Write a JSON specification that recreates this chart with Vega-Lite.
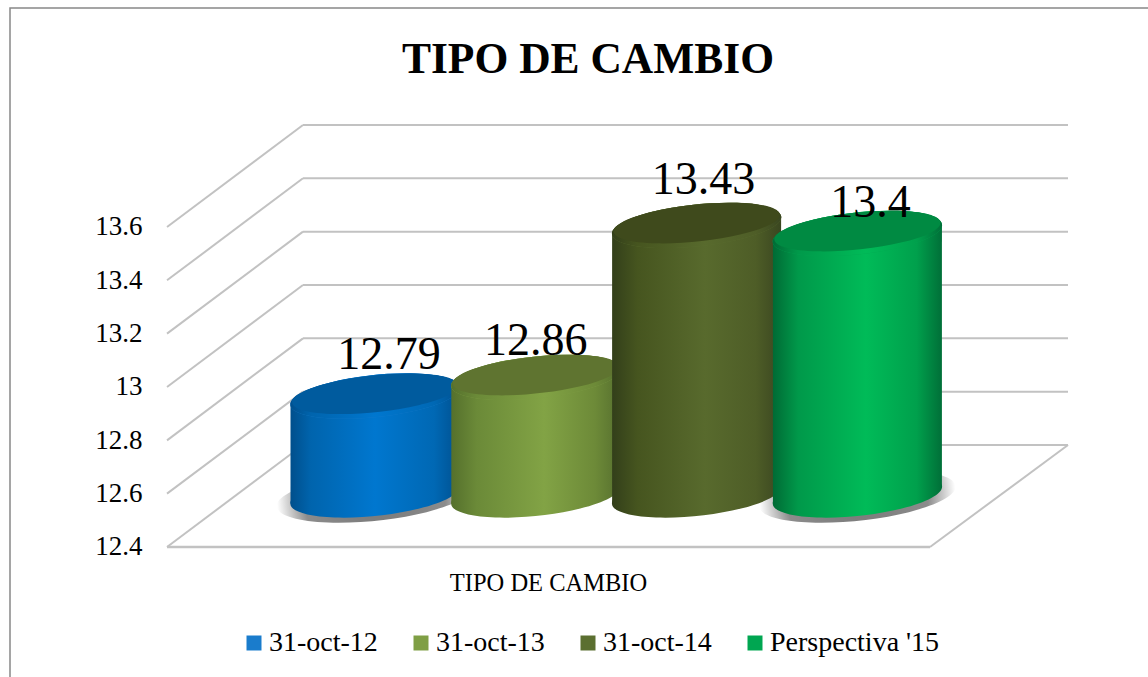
{
"$schema":"https://vega.github.io/schema/vega-lite/v6.json",
"width":1140,"height":671,"autosize":"none",
"padding":{"left":10,"top":8,"right":0,"bottom":0},
"background":"white",
"config":{"view":{"stroke":"#888888","strokeWidth":1.5},"font":"Liberation Serif"},
"title":{"text":"TIPO DE CAMBIO","font":"Liberation Serif","fontSize":43.5,"fontWeight":"bold","color":"#000000","anchor":"middle","dx":8,"offset":-74},
"datasets":{
"barras":[
{"serie":"31-oct-12","orden":0,"valor":12.79},
{"serie":"31-oct-13","orden":1,"valor":12.86},
{"serie":"31-oct-14","orden":2,"valor":13.43},
{"serie":"Perspectiva '15","orden":3,"valor":13.4}],
"ticks":[{"tick":12.4},{"tick":12.6},{"tick":12.8},{"tick":13.0},{"tick":13.2},{"tick":13.4},{"tick":13.6}]
},
"layer":[
{"data":{"name":"ticks"},
 "transform":[{"calculate":"[0,1]","as":"s"},{"flatten":["s"]},{"calculate":"-1.2935+datum.s*0.8457","as":"xp"},{"calculate":"datum.tick+datum.s*0.3825","as":"yp"}],
 "mark":{"type":"line","color":"#c2c2c2","strokeWidth":2},
 "encoding":{
  "x":{"field":"xp","type":"quantitative","scale":{"domain":[-2.27,4.8196],"nice":false,"zero":false},
   "axis":{"title":"TIPO DE CAMBIO","titleFont":"Liberation Serif","titleFontSize":24.5,"titleFontWeight":"normal","titleColor":"#000000","titleX":538,"titleY":-108,"labels":false,"ticks":false,"domain":false,"grid":false}},
  "y":{"field":"yp","type":"quantitative","scale":{"domain":[11.905,14.4212],"nice":false,"zero":false},
   "axis":{"title":null,"values":[12.4,12.6,12.8,13,13.2,13.4,13.6],"format":"~g","offset":-147,"labelPadding":15,"ticks":false,"domain":false,"grid":false,"labelFont":"Liberation Serif","labelFontSize":27,"labelColor":"#000000"}},
  "detail":{"field":"tick"}}},
{"data":{"name":"ticks"},
 "transform":[{"calculate":"datum.tick+0.3825","as":"yb"}],
 "mark":{"type":"rule","color":"#c2c2c2","strokeWidth":2},
 "encoding":{"x":{"datum":-0.4478,"type":"quantitative"},"x2":{"datum":4.3097},"y":{"field":"yb","type":"quantitative"}}},
{"data":{"name":"ticks"},
 "transform":[{"filter":"datum.tick==12.4"}],
 "mark":{"type":"rule","color":"#c2c2c2","strokeWidth":2.5},
 "encoding":{"x":{"datum":-1.2935,"type":"quantitative"},"x2":{"datum":3.4515},"y":{"field":"tick","type":"quantitative"}}},
{"data":{"name":"ticks"},
 "transform":[{"filter":"datum.tick==12.4"},{"calculate":"[0,1]","as":"s"},{"flatten":["s"]},{"calculate":"3.4515+datum.s*0.8582","as":"xp"},{"calculate":"datum.tick+datum.s*0.3825","as":"yp"}],
 "mark":{"type":"line","color":"#c2c2c2","strokeWidth":2},
 "encoding":{"x":{"field":"xp","type":"quantitative"},"y":{"field":"yp","type":"quantitative"}}},
{"data":{"name":"barras"},
 "transform":[{"filter":"datum.orden==0||datum.orden==3"},{"calculate":"12.59","as":"base"}],
 "mark":{"type":"point","filled":true,"opacity":1,"strokeWidth":0,"size":39000,"shape":"M -0.9945 0.1045 A 1 0.245 -6 1 1 0.9945 -0.1045 A 1 0.245 -6 1 1 -0.9945 0.1045 Z",
  "fill":{"gradient":"radial","x1":0.5,"y1":0.5,"r1":0,"x2":0.5,"y2":0.5,"r2":0.5,"stops":[{"offset":0,"color":"#777777"},{"offset":0.72,"color":"#8c8c8c"},{"offset":1,"color":"#ffffff"}]}},
 "encoding":{"x":{"field":"orden","type":"quantitative"},"y":{"field":"base","type":"quantitative"}}},

{"data":{"name":"barras"},"transform":[{"filter":"datum.orden==0"},{"calculate":"12.595","as":"base"}],
 "mark":{"type":"point","filled":true,"opacity":1,"strokeWidth":0,"size":28968,"shape":"M -0.9945 0.1045 A 1 0.245 -6 1 1 0.9945 -0.1045 A 1 0.245 -6 1 1 -0.9945 0.1045 Z",
  "fill":{"gradient":"linear","x1":0,"y1":0,"x2":1,"y2":0,"stops":[{"offset":0,"color":"#004f8c"},{"offset":0.12,"color":"#0064ad"},{"offset":0.5,"color":"#0077cf"},{"offset":0.85,"color":"#0068b4"},{"offset":1,"color":"#00508f"}]}},
 "encoding":{"x":{"field":"orden","type":"quantitative"},"y":{"field":"base","type":"quantitative"}}},
{"data":{"name":"barras"},"transform":[{"filter":"datum.orden==0"},{"calculate":"[-1,1]","as":"s"},{"flatten":["s"]},{"calculate":"datum.orden+datum.s*0.5255","as":"xp"},{"calculate":"datum.valor+0.176+datum.s*0.0315","as":"top"},{"calculate":"12.595+datum.s*0.0315","as":"bot"}],
 "mark":{"type":"area","line":false,"fill":{"gradient":"linear","x1":0,"y1":0,"x2":1,"y2":0,"stops":[{"offset":0,"color":"#004f8c"},{"offset":0.12,"color":"#0064ad"},{"offset":0.5,"color":"#0077cf"},{"offset":0.85,"color":"#0068b4"},{"offset":1,"color":"#00508f"}]}},
 "encoding":{"x":{"field":"xp","type":"quantitative"},"y":{"field":"top","type":"quantitative","stack":null},"y2":{"field":"bot"}}},
{"data":{"name":"barras"},"transform":[{"filter":"datum.orden==0"},{"calculate":"datum.valor+0.176","as":"top"}],
 "mark":{"type":"point","filled":true,"opacity":1,"strokeWidth":0,"size":28968,"shape":"M -0.9945 0.1045 A 1 0.245 -6 1 1 0.9945 -0.1045 A 1 0.245 -6 1 1 -0.9945 0.1045 Z"},
 "encoding":{"x":{"field":"orden","type":"quantitative"},"y":{"field":"top","type":"quantitative"},
  "color":{"field":"serie","type":"nominal","scale":{"domain":["31-oct-12","31-oct-13","31-oct-14","Perspectiva '15"],"range":["#1a7ccc","#7f9f45","#5b6f30","#00a651"]},
   "legend":{"title":null,"orient":"none","legendX":230,"legendY":621,"direction":"horizontal","columns":4,"symbolType":"square","symbolSize":225,"symbolOpacity":1,"symbolStrokeWidth":0,"labelFont":"Liberation Serif","labelFontSize":28,"labelColor":"#000000","labelOffset":1,"columnPadding":29,"labelLimit":300}}}},
{"data":{"name":"barras"},"transform":[{"filter":"datum.orden==0"},{"calculate":"datum.valor+0.176","as":"top"}],
 "mark":{"type":"point","filled":true,"opacity":1,"strokeWidth":0,"size":28968,"shape":"M -0.9945 0.1045 A 1 0.245 -6 1 1 0.9945 -0.1045 A 1 0.245 -6 1 1 -0.9945 0.1045 Z",
  "fill":{"gradient":"linear","x1":0,"y1":0,"x2":1,"y2":0,"stops":[{"offset":0,"color":"#004f8c"},{"offset":0.12,"color":"#0064ad"},{"offset":0.5,"color":"#0077cf"},{"offset":0.85,"color":"#0068b4"},{"offset":1,"color":"#00508f"}]}},
 "encoding":{"x":{"field":"orden","type":"quantitative"},"y":{"field":"top","type":"quantitative"}}},
{"data":{"name":"barras"},"transform":[{"filter":"datum.orden==0"},{"calculate":"datum.valor+0.176","as":"top"}],
 "mark":{"type":"point","filled":true,"opacity":1,"strokeWidth":0,"size":28968,"yOffset":-2.3,"color":"#005b9e","shape":"M -0.9746 0.1024 A 0.98 0.215 -6 1 1 0.9746 -0.1024 A 0.98 0.215 -6 1 1 -0.9746 0.1024 Z"},
 "encoding":{"x":{"field":"orden","type":"quantitative"},"y":{"field":"top","type":"quantitative"}}},

{"data":{"name":"barras"},"transform":[{"filter":"datum.orden==1"},{"calculate":"12.595","as":"base"}],
 "mark":{"type":"point","filled":true,"opacity":1,"strokeWidth":0,"size":28968,"shape":"M -0.9945 0.1045 A 1 0.245 -6 1 1 0.9945 -0.1045 A 1 0.245 -6 1 1 -0.9945 0.1045 Z",
  "fill":{"gradient":"linear","x1":0,"y1":0,"x2":1,"y2":0,"stops":[{"offset":0,"color":"#55702c"},{"offset":0.15,"color":"#6b8a38"},{"offset":0.55,"color":"#82a345"},{"offset":0.85,"color":"#6d8a38"},{"offset":1,"color":"#566f2e"}]}},
 "encoding":{"x":{"field":"orden","type":"quantitative"},"y":{"field":"base","type":"quantitative"}}},
{"data":{"name":"barras"},"transform":[{"filter":"datum.orden==1"},{"calculate":"[-1,1]","as":"s"},{"flatten":["s"]},{"calculate":"datum.orden+datum.s*0.5255","as":"xp"},{"calculate":"datum.valor+0.176+datum.s*0.0315","as":"top"},{"calculate":"12.595+datum.s*0.0315","as":"bot"}],
 "mark":{"type":"area","line":false,"fill":{"gradient":"linear","x1":0,"y1":0,"x2":1,"y2":0,"stops":[{"offset":0,"color":"#55702c"},{"offset":0.15,"color":"#6b8a38"},{"offset":0.55,"color":"#82a345"},{"offset":0.85,"color":"#6d8a38"},{"offset":1,"color":"#566f2e"}]}},
 "encoding":{"x":{"field":"xp","type":"quantitative"},"y":{"field":"top","type":"quantitative","stack":null},"y2":{"field":"bot"}}},
{"data":{"name":"barras"},"transform":[{"filter":"datum.orden==1"},{"calculate":"datum.valor+0.176","as":"top"}],
 "mark":{"type":"point","filled":true,"opacity":1,"strokeWidth":0,"size":28968,"shape":"M -0.9945 0.1045 A 1 0.245 -6 1 1 0.9945 -0.1045 A 1 0.245 -6 1 1 -0.9945 0.1045 Z"},
 "encoding":{"x":{"field":"orden","type":"quantitative"},"y":{"field":"top","type":"quantitative"},"color":{"field":"serie","type":"nominal"}}},
{"data":{"name":"barras"},"transform":[{"filter":"datum.orden==1"},{"calculate":"datum.valor+0.176","as":"top"}],
 "mark":{"type":"point","filled":true,"opacity":1,"strokeWidth":0,"size":28968,"shape":"M -0.9945 0.1045 A 1 0.245 -6 1 1 0.9945 -0.1045 A 1 0.245 -6 1 1 -0.9945 0.1045 Z",
  "fill":{"gradient":"linear","x1":0,"y1":0,"x2":1,"y2":0,"stops":[{"offset":0,"color":"#55702c"},{"offset":0.15,"color":"#6b8a38"},{"offset":0.55,"color":"#82a345"},{"offset":0.85,"color":"#6d8a38"},{"offset":1,"color":"#566f2e"}]}},
 "encoding":{"x":{"field":"orden","type":"quantitative"},"y":{"field":"top","type":"quantitative"}}},
{"data":{"name":"barras"},"transform":[{"filter":"datum.orden==1"},{"calculate":"datum.valor+0.176","as":"top"}],
 "mark":{"type":"point","filled":true,"opacity":1,"strokeWidth":0,"size":28968,"yOffset":-2.3,"color":"#5f7430","shape":"M -0.9746 0.1024 A 0.98 0.215 -6 1 1 0.9746 -0.1024 A 0.98 0.215 -6 1 1 -0.9746 0.1024 Z"},
 "encoding":{"x":{"field":"orden","type":"quantitative"},"y":{"field":"top","type":"quantitative"}}},

{"data":{"name":"barras"},"transform":[{"filter":"datum.orden==2"},{"calculate":"12.595","as":"base"}],
 "mark":{"type":"point","filled":true,"opacity":1,"strokeWidth":0,"size":28968,"shape":"M -0.9945 0.1045 A 1 0.245 -6 1 1 0.9945 -0.1045 A 1 0.245 -6 1 1 -0.9945 0.1045 Z",
  "fill":{"gradient":"linear","x1":0,"y1":0,"x2":1,"y2":0,"stops":[{"offset":0,"color":"#333f1a"},{"offset":0.15,"color":"#46551f"},{"offset":0.55,"color":"#586a2d"},{"offset":0.85,"color":"#4e5d27"},{"offset":1,"color":"#3a4620"}]}},
 "encoding":{"x":{"field":"orden","type":"quantitative"},"y":{"field":"base","type":"quantitative"}}},
{"data":{"name":"barras"},"transform":[{"filter":"datum.orden==2"},{"calculate":"[-1,1]","as":"s"},{"flatten":["s"]},{"calculate":"datum.orden+datum.s*0.5255","as":"xp"},{"calculate":"datum.valor+0.176+datum.s*0.0315","as":"top"},{"calculate":"12.595+datum.s*0.0315","as":"bot"}],
 "mark":{"type":"area","line":false,"fill":{"gradient":"linear","x1":0,"y1":0,"x2":1,"y2":0,"stops":[{"offset":0,"color":"#333f1a"},{"offset":0.15,"color":"#46551f"},{"offset":0.55,"color":"#586a2d"},{"offset":0.85,"color":"#4e5d27"},{"offset":1,"color":"#3a4620"}]}},
 "encoding":{"x":{"field":"xp","type":"quantitative"},"y":{"field":"top","type":"quantitative","stack":null},"y2":{"field":"bot"}}},
{"data":{"name":"barras"},"transform":[{"filter":"datum.orden==2"},{"calculate":"datum.valor+0.176","as":"top"}],
 "mark":{"type":"point","filled":true,"opacity":1,"strokeWidth":0,"size":28968,"shape":"M -0.9945 0.1045 A 1 0.245 -6 1 1 0.9945 -0.1045 A 1 0.245 -6 1 1 -0.9945 0.1045 Z"},
 "encoding":{"x":{"field":"orden","type":"quantitative"},"y":{"field":"top","type":"quantitative"},"color":{"field":"serie","type":"nominal"}}},
{"data":{"name":"barras"},"transform":[{"filter":"datum.orden==2"},{"calculate":"datum.valor+0.176","as":"top"}],
 "mark":{"type":"point","filled":true,"opacity":1,"strokeWidth":0,"size":28968,"shape":"M -0.9945 0.1045 A 1 0.245 -6 1 1 0.9945 -0.1045 A 1 0.245 -6 1 1 -0.9945 0.1045 Z",
  "fill":{"gradient":"linear","x1":0,"y1":0,"x2":1,"y2":0,"stops":[{"offset":0,"color":"#333f1a"},{"offset":0.15,"color":"#46551f"},{"offset":0.55,"color":"#586a2d"},{"offset":0.85,"color":"#4e5d27"},{"offset":1,"color":"#3a4620"}]}},
 "encoding":{"x":{"field":"orden","type":"quantitative"},"y":{"field":"top","type":"quantitative"}}},
{"data":{"name":"barras"},"transform":[{"filter":"datum.orden==2"},{"calculate":"datum.valor+0.176","as":"top"}],
 "mark":{"type":"point","filled":true,"opacity":1,"strokeWidth":0,"size":28968,"yOffset":-2.3,"color":"#3f4a1c","shape":"M -0.9746 0.1024 A 0.98 0.215 -6 1 1 0.9746 -0.1024 A 0.98 0.215 -6 1 1 -0.9746 0.1024 Z"},
 "encoding":{"x":{"field":"orden","type":"quantitative"},"y":{"field":"top","type":"quantitative"}}},

{"data":{"name":"barras"},"transform":[{"filter":"datum.orden==3"},{"calculate":"12.595","as":"base"}],
 "mark":{"type":"point","filled":true,"opacity":1,"strokeWidth":0,"size":28968,"shape":"M -0.9945 0.1045 A 1 0.245 -6 1 1 0.9945 -0.1045 A 1 0.245 -6 1 1 -0.9945 0.1045 Z",
  "fill":{"gradient":"linear","x1":0,"y1":0,"x2":1,"y2":0,"stops":[{"offset":0,"color":"#006b35"},{"offset":0.15,"color":"#00994a"},{"offset":0.55,"color":"#00bb58"},{"offset":0.85,"color":"#00a04c"},{"offset":1,"color":"#006f38"}]}},
 "encoding":{"x":{"field":"orden","type":"quantitative"},"y":{"field":"base","type":"quantitative"}}},
{"data":{"name":"barras"},"transform":[{"filter":"datum.orden==3"},{"calculate":"[-1,1]","as":"s"},{"flatten":["s"]},{"calculate":"datum.orden+datum.s*0.5255","as":"xp"},{"calculate":"datum.valor+0.176+datum.s*0.0315","as":"top"},{"calculate":"12.595+datum.s*0.0315","as":"bot"}],
 "mark":{"type":"area","line":false,"fill":{"gradient":"linear","x1":0,"y1":0,"x2":1,"y2":0,"stops":[{"offset":0,"color":"#006b35"},{"offset":0.15,"color":"#00994a"},{"offset":0.55,"color":"#00bb58"},{"offset":0.85,"color":"#00a04c"},{"offset":1,"color":"#006f38"}]}},
 "encoding":{"x":{"field":"xp","type":"quantitative"},"y":{"field":"top","type":"quantitative","stack":null},"y2":{"field":"bot"}}},
{"data":{"name":"barras"},"transform":[{"filter":"datum.orden==3"},{"calculate":"datum.valor+0.176","as":"top"}],
 "mark":{"type":"point","filled":true,"opacity":1,"strokeWidth":0,"size":28968,"shape":"M -0.9945 0.1045 A 1 0.245 -6 1 1 0.9945 -0.1045 A 1 0.245 -6 1 1 -0.9945 0.1045 Z"},
 "encoding":{"x":{"field":"orden","type":"quantitative"},"y":{"field":"top","type":"quantitative"},"color":{"field":"serie","type":"nominal"}}},
{"data":{"name":"barras"},"transform":[{"filter":"datum.orden==3"},{"calculate":"datum.valor+0.176","as":"top"}],
 "mark":{"type":"point","filled":true,"opacity":1,"strokeWidth":0,"size":28968,"shape":"M -0.9945 0.1045 A 1 0.245 -6 1 1 0.9945 -0.1045 A 1 0.245 -6 1 1 -0.9945 0.1045 Z",
  "fill":{"gradient":"linear","x1":0,"y1":0,"x2":1,"y2":0,"stops":[{"offset":0,"color":"#006b35"},{"offset":0.15,"color":"#00994a"},{"offset":0.55,"color":"#00bb58"},{"offset":0.85,"color":"#00a04c"},{"offset":1,"color":"#006f38"}]}},
 "encoding":{"x":{"field":"orden","type":"quantitative"},"y":{"field":"top","type":"quantitative"}}},
{"data":{"name":"barras"},"transform":[{"filter":"datum.orden==3"},{"calculate":"datum.valor+0.176","as":"top"}],
 "mark":{"type":"point","filled":true,"opacity":1,"strokeWidth":0,"size":28968,"yOffset":-2.3,"color":"#008a42","shape":"M -0.9746 0.1024 A 0.98 0.215 -6 1 1 0.9746 -0.1024 A 0.98 0.215 -6 1 1 -0.9746 0.1024 Z"},
 "encoding":{"x":{"field":"orden","type":"quantitative"},"y":{"field":"top","type":"quantitative"}}},

{"data":{"name":"barras"},"transform":[{"filter":"datum.orden==0"},{"calculate":"datum.valor+0.176","as":"top"}],
 "mark":{"type":"text","font":"Liberation Serif","fontSize":46,"color":"#000000","dx":14,"dy":-41},
 "encoding":{"x":{"field":"orden","type":"quantitative"},"y":{"field":"top","type":"quantitative"},"text":{"field":"valor","type":"quantitative","format":"~g"}}},
{"data":{"name":"barras"},"transform":[{"filter":"datum.orden==1"},{"calculate":"datum.valor+0.176","as":"top"}],
 "mark":{"type":"text","font":"Liberation Serif","fontSize":46,"color":"#000000","dx":0,"dy":-36},
 "encoding":{"x":{"field":"orden","type":"quantitative"},"y":{"field":"top","type":"quantitative"},"text":{"field":"valor","type":"quantitative","format":"~g"}}},
{"data":{"name":"barras"},"transform":[{"filter":"datum.orden==2"},{"calculate":"datum.valor+0.176","as":"top"}],
 "mark":{"type":"text","font":"Liberation Serif","fontSize":46,"color":"#000000","dx":7,"dy":-45},
 "encoding":{"x":{"field":"orden","type":"quantitative"},"y":{"field":"top","type":"quantitative"},"text":{"field":"valor","type":"quantitative","format":"~g"}}},
{"data":{"name":"barras"},"transform":[{"filter":"datum.orden==3"},{"calculate":"datum.valor+0.176","as":"top"}],
 "mark":{"type":"text","font":"Liberation Serif","fontSize":46,"color":"#000000","dx":13,"dy":-30},
 "encoding":{"x":{"field":"orden","type":"quantitative"},"y":{"field":"top","type":"quantitative"},"text":{"field":"valor","type":"quantitative","format":"~g"}}}
]
}
